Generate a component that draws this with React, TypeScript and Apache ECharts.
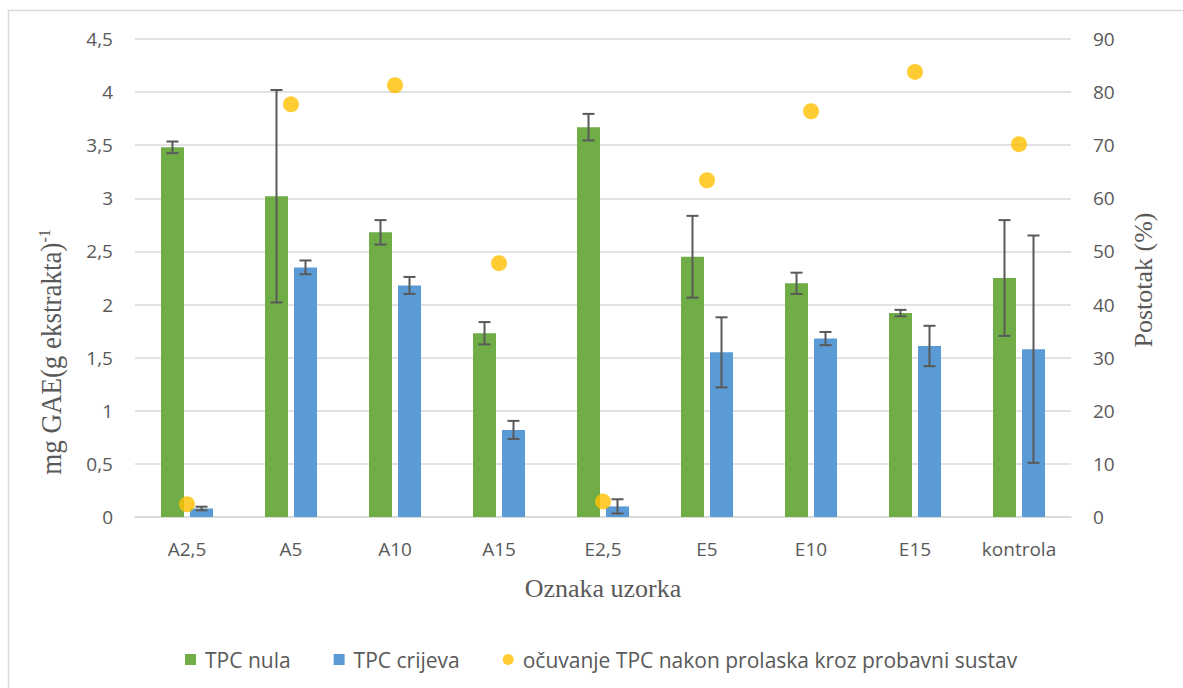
import React, { useEffect, useRef } from "react";
import * as echarts from "echarts";

const categories = ["A2,5", "A5", "A10", "A15", "E2,5", "E5", "E10", "E15", "kontrola"];
const tpcNula = [3.48, 3.02, 2.68, 1.73, 3.67, 2.45, 2.2, 1.92, 2.25];
const tpcNulaErr = [0.055, 1.0, 0.115, 0.105, 0.125, 0.385, 0.1, 0.03, 0.545];
const tpcCrijeva = [0.08, 2.35, 2.18, 0.82, 0.1, 1.55, 1.68, 1.61, 1.58];
const tpcCrijevaErr = [0.017, 0.065, 0.08, 0.085, 0.067, 0.33, 0.062, 0.19, 1.07];
const ocuvanje = [2.4, 77.7, 81.3, 47.8, 2.9, 63.4, 76.4, 83.8, 70.2];
const leftTicks = { min: 0, max: 4.5, interval: 0.5 };
const rightTicks = { min: 0, max: 90, interval: 10 };

const GREEN = "#70AD47";
const BLUE = "#5B9BD5";
const ORANGE = "#FFC000";
const GRID = "#D9D9D9";
const TEXT = "#595959";
const SANS = "'Open Sans', sans-serif";
const SERIF = "'Liberation Serif', 'Times New Roman', serif";
const BAR_W = 23;
const BAR_GAP = 6;

function errorSeries(values: number[], errs: number[], offset: number) {
  return {
    type: "custom",
    xAxisIndex: 0,
    yAxisIndex: 0,
    z: 5,
    silent: true,
    data: values.map((v, i) => [i, v, errs[i]]),
    encode: { x: 0, y: 1 },
    renderItem: (params: any, api: any) => {
      const i = api.value(0);
      const v = api.value(1);
      const e = api.value(2);
      const top = api.coord([i, v + e]);
      const bot = api.coord([i, v - e]);
      const x = top[0] + offset;
      const cap = 6;
      const st = { stroke: TEXT, lineWidth: 2 };
      return {
        type: "group",
        children: [
          { type: "line", shape: { x1: x, y1: top[1], x2: x, y2: bot[1] }, style: st },
          { type: "line", shape: { x1: x - cap, y1: top[1], x2: x + cap, y2: top[1] }, style: st },
          { type: "line", shape: { x1: x - cap, y1: bot[1], x2: x + cap, y2: bot[1] }, style: st },
        ],
      };
    },
  };
}

export default function App() {
  const ref = useRef<HTMLDivElement>(null);
  useEffect(() => {
    if (!ref.current) return;
    const chart = echarts.init(ref.current, undefined, { renderer: "svg" });
    const off = (BAR_W + BAR_GAP) / 2;
    chart.setOption({
      animation: false,
      backgroundColor: "#ffffff",
      grid: { left: 135, right: 112, top: 39, bottom: 171, containLabel: false },
      legend: {
        left: 180,
        top: 644,
        itemWidth: 11,
        itemHeight: 11,
        itemGap: 43,
        textStyle: { color: TEXT, fontSize: 21, fontFamily: SANS, padding: [0, 0, 0, 4] },
        data: [
          { name: "TPC nula", icon: "rect" },
          { name: "TPC crijeva", icon: "rect" },
          { name: "očuvanje TPC nakon prolaska kroz probavni sustav", icon: "circle" },
        ],
      },
      xAxis: {
        type: "category",
        data: categories,
        axisTick: { show: false },
        axisLine: { lineStyle: { color: GRID, width: 1.5 } },
        axisLabel: { color: TEXT, fontSize: 19, fontFamily: SANS, margin: 22 },
      },
      yAxis: [
        {
          type: "value",
          ...leftTicks,
          axisLine: { show: false },
          axisTick: { show: false },
          splitLine: { lineStyle: { color: GRID, width: 1.5 } },
          axisLabel: {
            color: TEXT,
            fontSize: 19,
            fontFamily: SANS,
            margin: 22,
            formatter: (v: number) => String(v).replace(".", ","),
          },
        },
        {
          type: "value",
          ...rightTicks,
          position: "right",
          axisLine: { show: false },
          axisTick: { show: false },
          splitLine: { show: false },
          axisLabel: { color: TEXT, fontSize: 19, fontFamily: SANS, margin: 22 },
        },
      ],
      series: [
        {
          name: "TPC nula",
          type: "bar",
          data: tpcNula,
          barWidth: BAR_W,
          barGap: (BAR_GAP / BAR_W) * 100 + "%",
          itemStyle: { color: GREEN },
        },
        {
          name: "TPC crijeva",
          type: "bar",
          data: tpcCrijeva,
          barWidth: BAR_W,
          itemStyle: { color: BLUE },
        },
        errorSeries(tpcNula, tpcNulaErr, -off),
        errorSeries(tpcCrijeva, tpcCrijevaErr, off),
        {
          name: "očuvanje TPC nakon prolaska kroz probavni sustav",
          type: "scatter",
          yAxisIndex: 1,
          data: ocuvanje,
          symbolSize: 16,
          z: 6,
          itemStyle: { color: ORANGE },
        },
      ],
      graphic: [
        {
          type: "rect",
          shape: { x: 8.5, y: 10.5, width: 1300, height: 800 },
          style: { fill: "none", stroke: GRID, lineWidth: 1.5 },
          z: -10,
          silent: true,
        },
        {
          type: "text",
          x: 51,
          y: 352,
          rotation: Math.PI / 2,
          scaleY: 1.08,
          style: {
            text: "{a|mg GAE(g ekstrakta)}{b|-1}",
            align: "center",
            verticalAlign: "middle",
            rich: {
              a: { fontSize: 27, fontFamily: SERIF, fill: TEXT },
              b: { fontSize: 16, fontFamily: SERIF, fill: TEXT, verticalAlign: "top", padding: [0, 0, 12, 0] },
            },
          },
        },
        {
          type: "text",
          x: 1143,
          y: 280,
          rotation: Math.PI / 2,
          style: {
            text: "Postotak (%)",
            align: "center",
            verticalAlign: "middle",
            fontSize: 26,
            fontFamily: SERIF,
            fill: TEXT,
          },
        },
        {
          type: "text",
          x: 603,
          y: 588,
          style: {
            text: "Oznaka uzorka",
            align: "center",
            verticalAlign: "middle",
            fontSize: 26,
            fontFamily: SERIF,
            fill: TEXT,
          },
        },
      ],
    });
    return () => chart.dispose();
  }, []);
  return (
    <div
      ref={ref}
      style={{ position: "fixed", left: 0, top: 0, width: 1183, height: 688 }}
    />
  );
}
